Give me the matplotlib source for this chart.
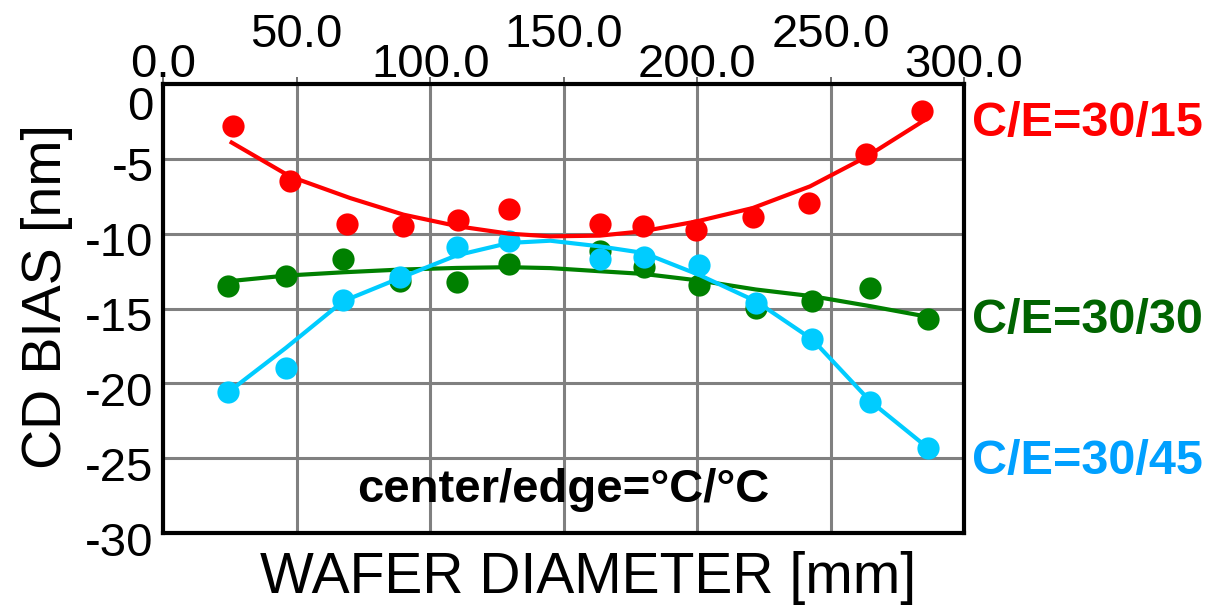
import matplotlib
matplotlib.use("Agg")
import matplotlib.pyplot as plt
import matplotlib.transforms as mtransforms

plt.rcParams["font.family"] = ["Liberation Sans", "DejaVu Sans"]

# measured points (wafer position mm, CD bias nm)
x_red = [26.0, 47.5, 68.7, 89.9, 110.5, 129.5, 163.6, 179.6, 199.6, 220.8, 241.9, 263.2, 284.4]
y_red = [-2.8, -6.45, -9.33, -9.51, -9.07, -8.35, -9.33, -9.51, -9.73, -8.89, -7.95, -4.67, -1.8]

x_pts = [24.4, 46.0, 67.4, 88.7, 109.9, 129.5, 163.6, 180.0, 200.7, 222.0, 243.2, 264.8, 286.6]
y_green = [-13.47, -12.8, -11.67, -13.18, -13.22, -12.02, -11.18, -12.25, -13.45, -14.95, -14.51, -13.62, -15.73]
y_cyan = [-20.58, -18.95, -14.4, -12.89, -10.89, -10.51, -11.67, -11.58, -12.11, -14.62, -17.02, -21.25, -24.33]

# trend lines
x_red_fit = [25.6, 47.5, 70.0, 90.0, 110.5, 129.5, 145.0, 163.6, 179.6, 199.9, 220.8, 242.3, 263.2, 284.4]
red_fit = [-3.91, -6.18, -7.62, -8.73, -9.51, -10.0, -10.18, -10.13, -9.84, -9.18, -8.29, -6.84, -4.89, -2.51]

x_fit = [24.4, 46.0, 67.4, 88.7, 109.9, 129.5, 145.0, 163.6, 180.0, 200.7, 222.0, 243.2, 264.8, 286.6]
green_fit = [-13.18, -12.8, -12.58, -12.4, -12.29, -12.24, -12.3, -12.51, -12.69, -13.13, -13.73, -14.18, -14.84, -15.56]
cyan_fit = [-20.58, -17.62, -14.51, -12.96, -11.45, -10.62, -10.47, -10.85, -11.29, -12.75, -14.51, -17.07, -21.18, -24.33]

x_ticks = [0, 50, 100, 150, 200, 250, 300]
y_ticks = [-30, -25, -20, -15, -10, -5, 0]

series_labels = ["C/E=30/15", "C/E=30/30", "C/E=30/45"]

RED = "#FF0000"
GREEN = "#008000"
CYAN = "#00CCFF"

fig = plt.figure(figsize=(12.08, 6.10), dpi=100)
ax = fig.add_axes([0.1352, 0.1262, 0.6628, 0.7361])

ax.set_xlim(0, 300)
ax.set_ylim(-30, 0)
ax.set_xticks(x_ticks, [f"{v:.1f}" for v in x_ticks])
ax.set_yticks(y_ticks, [str(v) for v in y_ticks])
ax.grid(True, color="#808080", linewidth=2.2)
ax.set_axisbelow(True)
for sp in ax.spines.values():
    sp.set_linewidth(3)
    sp.set_color("black")

ax.xaxis.tick_top()
ax.tick_params(axis="x", top=True, bottom=False, labeltop=True, labelbottom=False,
               direction="out", length=5, width=1.2, color="#555555", labelsize=34)
ax.tick_params(axis="y", length=0, labelsize=34, pad=7)

# staggered top labels
for i, t in enumerate(ax.xaxis.get_major_ticks()):
    t.set_pad(14.5 if i % 2 == 1 else -7)

# y tick labels sit a bit below the grid lines
for t in ax.yaxis.get_major_ticks():
    dy = -14 if t.get_loc() == 0 else -4
    off = mtransforms.ScaledTranslation(0, dy / 72, fig.dpi_scale_trans)
    t.label1.set_transform(t.label1.get_transform() + off)

ax.plot(x_fit, green_fit, color=GREEN, lw=3, zorder=3)
ax.plot(x_pts, y_green, "o", color=GREEN, ms=16, mec="none", zorder=3)
ax.plot(x_fit, cyan_fit, color=CYAN, lw=3, zorder=4)
ax.plot(x_pts, y_cyan, "o", color=CYAN, ms=16, mec="none", zorder=4)
ax.plot(x_red_fit, red_fit, color=RED, lw=3, zorder=5)
ax.plot(x_red, y_red, "o", color=RED, ms=16, mec="none", zorder=5)

ax.set_ylabel("CD BIAS [nm]", fontsize=40)
ax.yaxis.label.set_va("center")
ax.yaxis.set_label_coords(-0.145, 0.526)
ax.xaxis.set_label_position("bottom")
ax.set_xlabel("WAFER DIAMETER [mm]", fontsize=41)
ax.xaxis.label.set_va("center")
ax.xaxis.set_label_coords(0.53, -0.10)

ax.text(0.5, 0.096, "center/edge=\u00b0C/\u00b0C", transform=ax.transAxes,
        fontsize=34, fontweight="bold", ha="center", va="center")

label_colors = [RED, "#006400", "#00A0FF"]
label_y = [0.913, 0.474, 0.160]
for txt, c, yy in zip(series_labels, label_colors, label_y):
    ax.text(1.010, yy, txt, transform=ax.transAxes, color=c, fontsize=35,
            fontweight="bold", ha="left", va="center", clip_on=False)

fig.savefig("out.png", dpi=100)
